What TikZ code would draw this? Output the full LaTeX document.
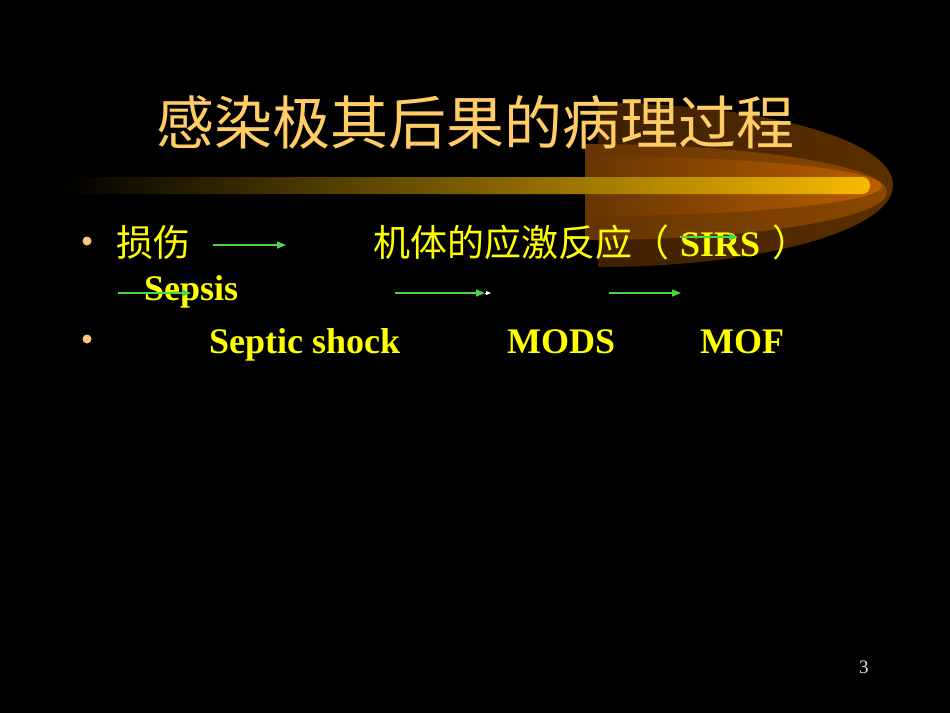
\documentclass[tikz,border=0pt]{standalone}
\usepackage{fontspec}
\setmainfont{Liberation Serif}
\newfontfamily\cjk{Noto Sans CJK SC}
\usetikzlibrary{arrows.meta}
\definecolor{titlecol}{RGB}{255,204,102}
\definecolor{txtyellow}{RGB}{255,255,0}
\definecolor{arrowgreen}{RGB}{76,214,70}
\definecolor{bulletcol}{RGB}{255,200,120}
\definecolor{gold}{RGB}{246,186,0}
\definecolor{swA}{RGB}{62,31,0}
\definecolor{swAr}{RGB}{92,48,0}
\definecolor{swB}{RGB}{100,52,2}
\definecolor{swBr}{RGB}{140,72,0}
\definecolor{swC}{RGB}{102,53,2}
\definecolor{swCr}{RGB}{188,94,0}
\definecolor{pagecol}{RGB}{230,230,205}
\tikzset{
  titletext/.style={anchor=base west, inner sep=0pt, text=titlecol, font=\cjk\fontsize{58}{60}\selectfont},
  cjktext/.style={anchor=base west, inner sep=0pt, text=txtyellow, font=\cjk\fontsize{37}{40}\selectfont},
  latintext/.style={anchor=base west, inner sep=0pt, text=txtyellow, font=\bfseries\fontsize{36}{40}\selectfont},
  bulletdot/.style={circle, fill=bulletcol, inner sep=0pt, minimum size=9pt},
  greenarrow/.style={draw=arrowgreen, line width=1.4pt, -{Triangle[length=9pt,width=7pt]}},
}
\begin{document}
\begin{tikzpicture}[x=1pt,y=-1pt]
\useasboundingbox (0,0) rectangle (950,713);
\fill[black] (0,0) rectangle (950,713);
% swoosh layers
\shade[left color=swA, right color=swAr] (598,267) arc[start angle=90, end angle=-90, x radius=295, y radius=82] -- cycle;
\shade[left color=swB, right color=swBr] (585,240) arc[start angle=90, end angle=-90, x radius=302, y radius=48] -- cycle;
\shade[left color=swC, right color=swCr] (585,216) arc[start angle=90, end angle=-90, x radius=297, y radius=30] -- cycle;
% bar
\shade[left color=black, right color=gold, rounded corners=8pt] (62,177) rectangle (870,194);
% title
\node[titletext] (title) at (156,144) {感染极其后果的病理过程};
% bullets
\node[bulletdot] (b1) at (87,241) {};
\node[bulletdot] (b2) at (87,339) {};
% line 1
\node[cjktext] (sunshang) at (116,256) {损伤};
\node[cjktext] (jiti) at (373,256) {机体的应激反应（};
\node[latintext] (sirs) at (680,256) {SIRS};
\node[cjktext] (rparen) at (772,256) {）};
% line 2
\node[latintext] (sepsis) at (144,300) {Sepsis};
% line 3
\node[latintext] (shock) at (209,353) {Septic shock};
\node[latintext] (mods) at (507,353) {MODS};
\node[latintext] (mof) at (700,353) {MOF};
% page number
\node[anchor=base west, inner sep=0pt, text=pagecol, font=\fontsize{19}{20}\selectfont] (page) at (859,673) {3};
% arrows
\coordinate (a1s) at (213,245); \coordinate (a1e) at (286,245);
\coordinate (a2s) at (680,237); \coordinate (a2e) at (738,237);
\coordinate (a3s) at (118,293); \coordinate (a3e) at (191,293);
\coordinate (a4s) at (395,293); \coordinate (a4e) at (485,293);
\coordinate (a4t) at (491,293);
\coordinate (a5s) at (609,293); \coordinate (a5e) at (681,293);
\draw[greenarrow] (a1s) -- (a1e);
\draw[greenarrow] (a2s) -- (a2e);
\draw[greenarrow] (a3s) -- (a3e);
\draw[greenarrow] (a4s) -- (a4e);
\draw[white, line width=1pt, -{Triangle[length=5pt,width=4pt]}] (a4e) -- (a4t);
\draw[greenarrow] (a5s) -- (a5e);
\end{tikzpicture}
\end{document}
